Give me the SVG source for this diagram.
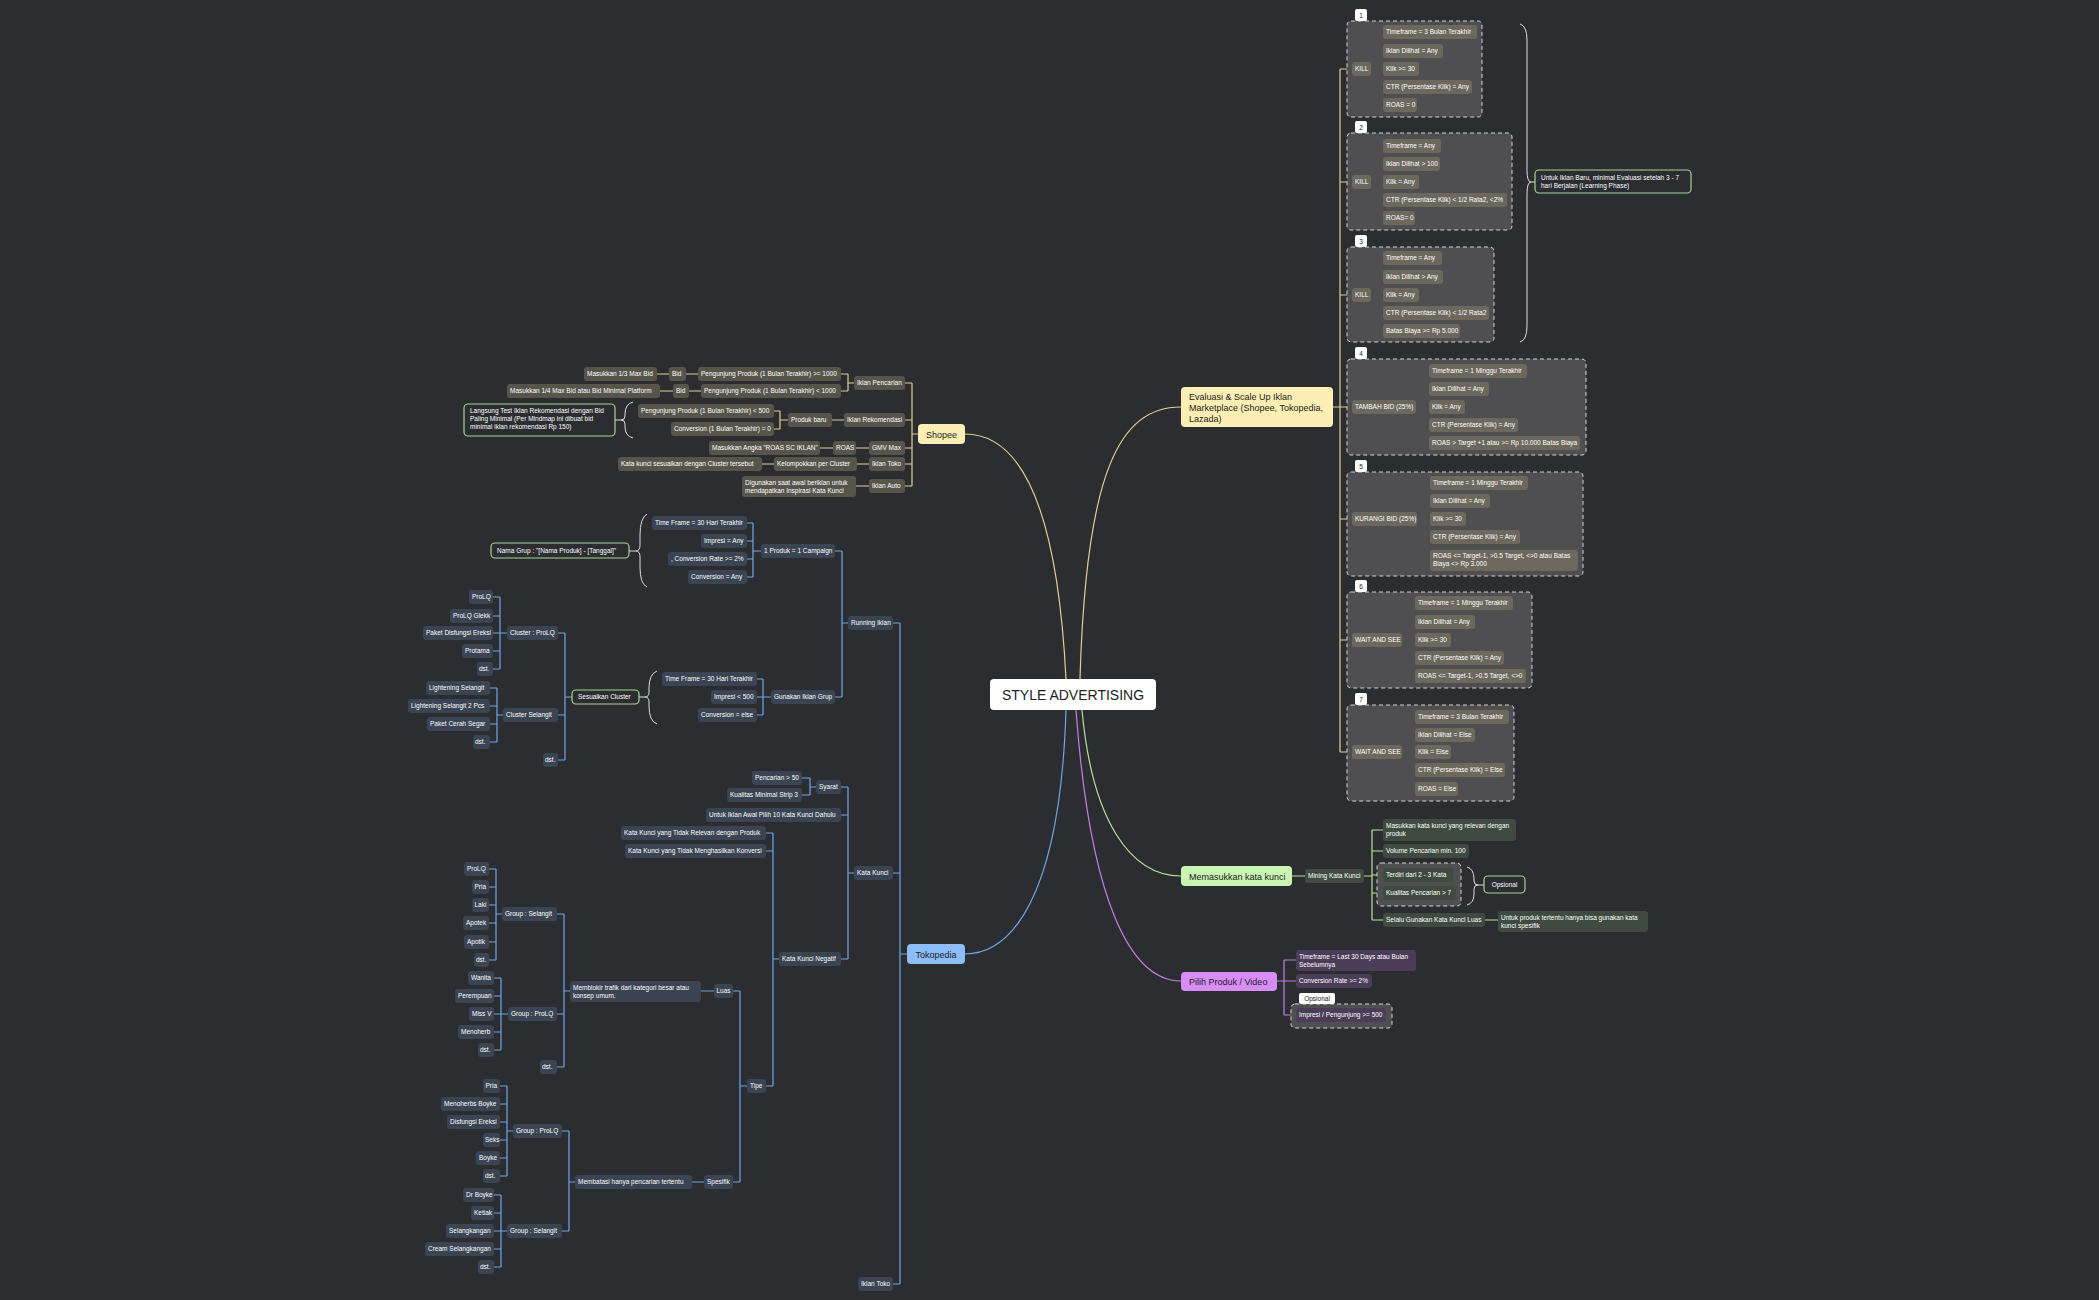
<svg xmlns="http://www.w3.org/2000/svg" width="2099" height="1300" viewBox="0 0 2099 1300">
<style>
text{font-family:"Liberation Sans",Arial,sans-serif;font-size:6.5px;fill:#fff}
.b{fill:#3a4452}.y{fill:#57544b}.e{fill:#6c685e}.g{fill:#3f4b40}.p{fill:#4b3d57}
.box{fill:#4f4f51;stroke:#d4d4d4;stroke-width:1;stroke-dasharray:4 3}
.tab{fill:#fff}.tt{fill:#222;text-anchor:middle}
.note{fill:#2b2d31;stroke:#a6d693;stroke-width:1.2}
.c{fill:none;stroke-width:1.2}
.cb{stroke:#6ea6e6}.cy{stroke:#e3d08f}.cg{stroke:#b5e39c}.cp{stroke:#c47fe6}.cw{stroke:#ddd;fill:none;stroke-width:1}
.m{font-size:9px;fill:#1c1c1c}
</style>
<rect width="2099" height="1300" fill="#2b2d31"/>
<g id="connectors">
<path class="c cy" d="M1080,679 C1086,470 1120,407 1181,407"/>
<path class="c cy" d="M1066,679 C1056,480 1010,434 965,434"/>
<path class="c cb" d="M1066,710 C1060,900 1010,954 965,954"/>
<path class="c cg" d="M1082,710 C1092,820 1130,876 1181,876"/>
<path class="c cp" d="M1076,710 C1090,900 1130,981 1181,981"/>
<path class="c cy" d="M1333,407 H1340 M1340,69 V752 M1340,69 H1352 M1340,182 H1352 M1340,295 H1352 M1340,407 H1352 M1340,519 H1352 M1340,640 H1352 M1340,752 H1352"/>
<path class="c cy" d="M1371,69 H1376 M1376,32 V105 M1376,32 H1383 M1376,51 H1383 M1376,69 H1383 M1376,87 H1383 M1376,105 H1383"/>
<path class="c cy" d="M1371,182 H1376 M1376,146 V218 M1376,146 H1383 M1376,164 H1383 M1376,182 H1383 M1376,200 H1383 M1376,218 H1383"/>
<path class="c cy" d="M1371,295 H1376 M1376,258 V331 M1376,258 H1383 M1376,277 H1383 M1376,295 H1383 M1376,313 H1383 M1376,331 H1383"/>
<path class="c cy" d="M1416,407 H1422 M1422,371 V443 M1422,371 H1429 M1422,389 H1429 M1422,407 H1429 M1422,425 H1429 M1422,443 H1429"/>
<path class="c cy" d="M1417,519 H1424 M1424,483 V560 M1424,483 H1430 M1424,501 H1430 M1424,519 H1430 M1424,537 H1430 M1424,560 H1430"/>
<path class="c cy" d="M1402,640 H1408 M1408,603 V676 M1408,603 H1415 M1408,622 H1415 M1408,640 H1415 M1408,658 H1415 M1408,676 H1415"/>
<path class="c cy" d="M1402,752 H1408 M1408,717 V789 M1408,717 H1415 M1408,735 H1415 M1408,752 H1415 M1408,770 H1415 M1408,789 H1415"/>
<path class="cw" d="M1520,24 Q1527,26 1527,40 V170 Q1527,182 1531,182 Q1527,182 1527,194 V326 Q1527,340 1520,342 M1531,182 H1535"/>
<path class="c cy" d="M918,434 H912 M912,383 V486 M912,383 H905 M912,420 H905 M912,448 H905 M912,464 H905 M912,486 H905"/>
<path class="c cy" d="M854,383 H848 M848,374 V391 M848,374 H841 M848,391 H841 M698,374 H686 M669,374 H657 M701,391 H689 M673,391 H660"/>
<path class="c cy" d="M844,420 H832 M788,420 H780 M780,411 V429 M780,411 H774 M780,429 H774"/>
<path class="cw" d="M633,402 Q625,404 625,414 V416 Q625,420 621,420 Q625,420 625,424 V427 Q625,436 633,438 M621,420 H615"/>
<path class="c cy" d="M869,448 H856 M833,448 H820 M869,464 H857 M774,464 H762 M869,486 H856"/>
<path class="c cb" d="M907,954 H900 M900,623 V1284 M900,623 H893 M900,873 H893 M900,1284 H893"/>
<path class="c cb" d="M848,623 H842 M842,551 V697 M842,551 H835 M842,697 H835"/>
<path class="c cb" d="M761,551 H753 M753,523 V577 M753,523 H747 M753,541 H747 M753,559 H747 M753,577 H747"/>
<path class="cw" d="M647,514 Q640,518 640,535 V545 Q640,551 636,551 Q640,551 640,557 V567 Q640,584 647,587 M636,551 H629"/>
<path class="c cb" d="M771,697 H763 M763,679 V715 M763,679 H757 M763,697 H757 M763,715 H757"/>
<path class="cw" d="M657,671 Q649,674 649,688 V692 Q649,697 645,697 Q649,697 649,702 V706 Q649,721 657,724 M645,697 H639"/>
<path class="c cb" d="M572,697 H565 M565,633 V760 M565,633 H558 M565,715 H558 M565,760 H558"/>
<path class="c cb" d="M507,633 H500 M500,597 V669 M500,597 H493 M500,616 H493 M500,633 H493 M500,651 H493 M500,669 H493"/>
<path class="c cb" d="M503,715 H497 M497,688 V742 M497,688 H490 M497,706 H490 M497,724 H490 M497,742 H490"/>
<path class="c cb" d="M854,873 H848 M848,787 V959 M848,787 H841 M848,815 H841 M848,959 H841"/>
<path class="c cb" d="M816,787 H810 M810,778 V795 M810,778 H802 M810,795 H802"/>
<path class="c cb" d="M779,959 H773 M773,833 V1086 M773,833 H766 M773,851 H766 M773,1086 H766"/>
<path class="c cb" d="M747,1086 H740 M740,991 V1182 M740,991 H733 M740,1182 H733 M714,991 H701 M704,1182 H692"/>
<path class="c cb" d="M570,991 H564 M564,914 V1067 M564,914 H557 M564,1014 H557 M564,1067 H557"/>
<path class="c cb" d="M502,914 H496 M496,869 V960 M496,869 H489 M496,887 H489 M496,905 H489 M496,923 H489 M496,942 H489 M496,960 H489"/>
<path class="c cb" d="M508,1014 H501 M501,978 V1050 M501,978 H494 M501,996 H494 M501,1014 H494 M501,1032 H494 M501,1050 H494"/>
<path class="c cb" d="M575,1182 H569 M569,1131 V1231 M569,1131 H562 M569,1231 H562"/>
<path class="c cb" d="M513,1131 H507 M507,1086 V1176 M507,1086 H500 M507,1104 H500 M507,1122 H500 M507,1140 H500 M507,1158 H500 M507,1176 H500"/>
<path class="c cb" d="M507,1231 H501 M501,1195 V1267 M501,1195 H494 M501,1213 H494 M501,1231 H494 M501,1249 H494 M501,1267 H494"/>
<path class="c cg" d="M1292,876 H1305 M1364,876 H1372 M1372,830 V920 M1372,830 H1383 M1372,851 H1383 M1372,875 H1383 M1372,893 H1383 M1372,920 H1383 M1485,920 H1498"/>
<path class="cw" d="M1467,867 Q1474,869 1474,879 V881 Q1474,885 1478,885 Q1474,885 1474,889 V894 Q1474,903 1467,905 M1478,885 H1484"/>
<path class="c cp" d="M1277,981 H1284 M1284,960 V1015 M1284,960 H1296 M1284,981 H1296 M1284,1015 H1296"/>
</g>
<g id="center"><rect x="990" y="679" width="166" height="31" rx="4" fill="#fff"/><text x="1073" y="699.5" style="font-size:14px;fill:#222;text-anchor:middle">STYLE ADVERTISING</text></g>
<g id="evaluasi"><rect x="1181" y="387" width="152" height="40" rx="4" fill="#fdefb3"/><text class="m" x="1189" y="400">Evaluasi &amp; Scale Up Iklan</text><text class="m" x="1189" y="411">Marketplace (Shopee, Tokopedia,</text><text class="m" x="1189" y="422">Lazada)</text></g>
<g id="box1"><rect class="box" x="1347" y="21" width="135" height="96" rx="4"/><rect class="tab" x="1355" y="9" width="12" height="12" rx="2"/><text class="tt" x="1361" y="18">1</text>
<rect class="e" x="1352" y="62" width="19" height="14" rx="3"/><text x="1355" y="71.3">KILL</text>
<rect class="e" x="1383" y="25" width="94" height="14" rx="3"/><text x="1386" y="34.3">Timeframe = 3 Bulan Terakhir</text>
<rect class="e" x="1383" y="44" width="60" height="14" rx="3"/><text x="1386" y="53.3">Iklan Dilihat = Any</text>
<rect class="e" x="1383" y="62" width="36" height="14" rx="3"/><text x="1386" y="71.3">Klik &gt;= 30</text>
<rect class="e" x="1383" y="80" width="89" height="14" rx="3"/><text x="1386" y="89.3">CTR (Persentase Klik) = Any</text>
<rect class="e" x="1383" y="98" width="34" height="14" rx="3"/><text x="1386" y="107.3">ROAS = 0</text></g>
<g id="box2"><rect class="box" x="1347" y="133" width="165" height="97" rx="4"/><rect class="tab" x="1355" y="121" width="12" height="12" rx="2"/><text class="tt" x="1361" y="130">2</text>
<rect class="e" x="1352" y="175" width="19" height="14" rx="3"/><text x="1355" y="184.3">KILL</text>
<rect class="e" x="1383" y="139" width="58" height="14" rx="3"/><text x="1386" y="148.3">Timeframe = Any</text>
<rect class="e" x="1383" y="157" width="57" height="14" rx="3"/><text x="1386" y="166.3">Iklan Dilihat &gt; 100</text>
<rect class="e" x="1383" y="175" width="36" height="14" rx="3"/><text x="1386" y="184.3">Klik = Any</text>
<rect class="e" x="1383" y="193" width="124" height="14" rx="3"/><text x="1386" y="202.3">CTR (Persentase Klik) &lt; 1/2 Rata2, &lt;2%</text>
<rect class="e" x="1383" y="211" width="32" height="14" rx="3"/><text x="1386" y="220.3">ROAS= 0</text></g>
<g id="box3"><rect class="box" x="1347" y="247" width="147" height="95" rx="4"/><rect class="tab" x="1355" y="235" width="12" height="12" rx="2"/><text class="tt" x="1361" y="244">3</text>
<rect class="e" x="1352" y="288" width="19" height="14" rx="3"/><text x="1355" y="297.3">KILL</text>
<rect class="e" x="1383" y="251" width="59" height="14" rx="3"/><text x="1386" y="260.3">Timeframe = Any</text>
<rect class="e" x="1383" y="270" width="60" height="14" rx="3"/><text x="1386" y="279.3">Iklan Dilihat &gt; Any</text>
<rect class="e" x="1383" y="288" width="36" height="14" rx="3"/><text x="1386" y="297.3">Klik = Any</text>
<rect class="e" x="1383" y="306" width="106" height="14" rx="3"/><text x="1386" y="315.3">CTR (Persentase Klik) &lt; 1/2 Rata2</text>
<rect class="e" x="1383" y="324" width="77" height="14" rx="3"/><text x="1386" y="333.3">Batas Biaya &gt;= Rp 5.000</text></g>
<g id="note-learning"><rect class="note" x="1535" y="170" width="156" height="23" rx="4"/><text x="1541" y="180">Untuk Iklan Baru, minimal Evaluasi setelah 3 - 7</text><text x="1541" y="188">hari Berjalan (Learning Phase)</text></g>
<g id="box4"><rect class="box" x="1347" y="359" width="239" height="96" rx="4"/><rect class="tab" x="1355" y="347" width="12" height="12" rx="2"/><text class="tt" x="1361" y="356">4</text>
<rect class="e" x="1352" y="400" width="64" height="14" rx="3"/><text x="1355" y="409.3">TAMBAH BID (25%)</text>
<rect class="e" x="1429" y="364" width="98" height="14" rx="3"/><text x="1432" y="373.3">Timeframe = 1 Minggu Terakhir</text>
<rect class="e" x="1429" y="382" width="60" height="14" rx="3"/><text x="1432" y="391.3">Iklan Dilihat = Any</text>
<rect class="e" x="1429" y="400" width="36" height="14" rx="3"/><text x="1432" y="409.3">Klik = Any</text>
<rect class="e" x="1429" y="418" width="89" height="14" rx="3"/><text x="1432" y="427.3">CTR (Persentase Klik) = Any</text>
<rect class="e" x="1429" y="436" width="151" height="14" rx="3"/><text x="1432" y="445.3">ROAS &gt; Target +1 atau &gt;= Rp 10.000 Batas Biaya</text></g>
<g id="box5"><rect class="box" x="1347" y="472" width="236" height="104" rx="4"/><rect class="tab" x="1355" y="460" width="12" height="12" rx="2"/><text class="tt" x="1361" y="469">5</text>
<rect class="e" x="1352" y="512" width="65" height="14" rx="3"/><text x="1355" y="521.3">KURANGI BID (25%)</text>
<rect class="e" x="1430" y="476" width="98" height="14" rx="3"/><text x="1433" y="485.3">Timeframe = 1 Minggu Terakhir</text>
<rect class="e" x="1430" y="494" width="60" height="14" rx="3"/><text x="1433" y="503.3">Iklan Dilihat = Any</text>
<rect class="e" x="1430" y="512" width="36" height="14" rx="3"/><text x="1433" y="521.3">Klik &gt;= 30</text>
<rect class="e" x="1430" y="530" width="90" height="14" rx="3"/><text x="1433" y="539.3">CTR (Persentase Klik) = Any</text>
<rect class="e" x="1430" y="550" width="148" height="21" rx="3"/><text x="1433" y="558">ROAS &lt;= Target-1, &gt;0.5 Target, &lt;&gt;0 atau Batas</text><text x="1433" y="566">Biaya &lt;&gt; Rp 3.000</text></g>
<g id="box6"><rect class="box" x="1347" y="592" width="185" height="96" rx="4"/><rect class="tab" x="1355" y="580" width="12" height="12" rx="2"/><text class="tt" x="1361" y="589">6</text>
<rect class="e" x="1352" y="633" width="50" height="14" rx="3"/><text x="1355" y="642.3">WAIT AND SEE</text>
<rect class="e" x="1415" y="596" width="98" height="14" rx="3"/><text x="1418" y="605.3">Timeframe = 1 Minggu Terakhir</text>
<rect class="e" x="1415" y="615" width="60" height="14" rx="3"/><text x="1418" y="624.3">Iklan Dilihat = Any</text>
<rect class="e" x="1415" y="633" width="36" height="14" rx="3"/><text x="1418" y="642.3">Klik &gt;= 30</text>
<rect class="e" x="1415" y="651" width="89" height="14" rx="3"/><text x="1418" y="660.3">CTR (Persentase Klik) = Any</text>
<rect class="e" x="1415" y="669" width="111" height="14" rx="3"/><text x="1418" y="678.3">ROAS &lt;= Target-1, &gt;0.5 Target, &lt;&gt;0</text></g>
<g id="box7"><rect class="box" x="1347" y="705" width="167" height="96" rx="4"/><rect class="tab" x="1355" y="693" width="12" height="12" rx="2"/><text class="tt" x="1361" y="702">7</text>
<rect class="e" x="1352" y="745" width="50" height="14" rx="3"/><text x="1355" y="754.3">WAIT AND SEE</text>
<rect class="e" x="1415" y="710" width="94" height="14" rx="3"/><text x="1418" y="719.3">Timeframe = 3 Bulan Terakhir</text>
<rect class="e" x="1415" y="728" width="60" height="14" rx="3"/><text x="1418" y="737.3">Iklan Dilihat = Else</text>
<rect class="e" x="1415" y="745" width="36" height="14" rx="3"/><text x="1418" y="754.3">Klik = Else</text>
<rect class="e" x="1415" y="763" width="90" height="14" rx="3"/><text x="1418" y="772.3">CTR (Persentase Klik) = Else</text>
<rect class="e" x="1415" y="782" width="43" height="14" rx="3"/><text x="1418" y="791.3">ROAS = Else</text></g>
<g id="memasukkan"><rect x="1181" y="866" width="111" height="20" rx="4" fill="#c9f5b2"/><text class="m" x="1189" y="879.5">Memasukkan kata kunci</text>
<rect class="g" x="1305" y="869" width="59" height="14" rx="3"/><text x="1308" y="878.3">Mining Kata Kunci</text>
<rect class="g" x="1383" y="819" width="133" height="22" rx="3"/><text x="1386" y="828">Masukkan kata kunci yang relevan dengan</text><text x="1386" y="836">produk</text>
<rect class="g" x="1383" y="844" width="86" height="14" rx="3"/><text x="1386" y="853.3">Volume Pencarian min. 100</text>
<rect class="box" x="1377" y="863" width="84" height="43" rx="4"/>
<rect class="g" x="1383" y="868" width="70" height="14" rx="3"/><text x="1386" y="877.3">Terdiri dari 2 - 3 Kata</text>
<rect class="g" x="1383" y="886" width="73" height="14" rx="3"/><text x="1386" y="895.3">Kualitas Pencarian &gt; 7</text>
<rect class="note" x="1484" y="876" width="41" height="17" rx="4"/><text x="1504.5" y="887" style="text-anchor:middle">Opsional</text>
<rect class="g" x="1383" y="913" width="102" height="14" rx="3"/><text x="1386" y="922.3">Selalu Gunakan Kata Kunci Luas</text>
<rect class="g" x="1498" y="911" width="150" height="21" rx="3"/><text x="1501" y="919.5">Untuk produk tertentu hanya bisa gunakan kata</text><text x="1501" y="927.5">kunci spesifik</text></g>
<g id="pilih"><rect x="1181" y="972" width="96" height="19" rx="4" fill="#d88cf7"/><text class="m" x="1189" y="985">Pilih Produk / Video</text>
<rect class="p" x="1296" y="950" width="120" height="21" rx="3"/><text x="1299" y="958.5">Timeframe = Last 30 Days atau Bulan</text><text x="1299" y="966.5">Sebelumnya</text>
<rect class="p" x="1296" y="974" width="76" height="14" rx="3"/><text x="1299" y="983.3">Conversion Rate &gt;= 2%</text>
<rect class="box" x="1291" y="1004" width="101" height="24" rx="4"/><rect class="tab" x="1299" y="993" width="36" height="11" rx="2"/><text class="tt" x="1317" y="1001">Opsional</text>
<rect class="p" x="1296" y="1008" width="90" height="14" rx="3"/><text x="1299" y="1017.3">Impresi / Pengunjung &gt;= 500</text></g>
<g id="shopee"><rect x="918" y="424" width="47" height="20" rx="4" fill="#fdefb3"/><text class="m" x="941.5" y="437.5" style="text-anchor:middle">Shopee</text>
<rect class="y" x="854" y="376" width="51" height="14" rx="3"/><text x="857" y="385.3">Iklan Pencarian</text>
<rect class="y" x="698" y="367" width="143" height="14" rx="3"/><text x="701" y="376.3">Pengunjung Produk (1 Bulan Terakhir) &gt;= 1000</text>
<rect class="y" x="669" y="367" width="17" height="14" rx="3"/><text x="672" y="376.3">Bid</text>
<rect class="y" x="584" y="367" width="73" height="14" rx="3"/><text x="587" y="376.3">Masukkan 1/3 Max Bid</text>
<rect class="y" x="701" y="384" width="140" height="14" rx="3"/><text x="704" y="393.3">Pengunjung Produk (1 Bulan Terakhir) &lt; 1000</text>
<rect class="y" x="673" y="384" width="16" height="14" rx="3"/><text x="676" y="393.3">Bid</text>
<rect class="y" x="507" y="384" width="153" height="14" rx="3"/><text x="510" y="393.3">Masukkan 1/4 Max Bid atau Bid Minimal Platform</text>
<rect class="y" x="844" y="413" width="61" height="14" rx="3"/><text x="847" y="422.3">Iklan Rekomendasi</text>
<rect class="y" x="788" y="413" width="44" height="14" rx="3"/><text x="791" y="422.3">Produk baru</text>
<rect class="y" x="638" y="404" width="136" height="14" rx="3"/><text x="641" y="413.3">Pengunjung Produk (1 Bulan Terakhir) &lt; 500</text>
<rect class="y" x="671" y="422" width="103" height="14" rx="3"/><text x="674" y="431.3">Conversion (1 Bulan Terakhir) = 0</text>
<rect class="note" x="464" y="404" width="151" height="32" rx="4"/><text x="470" y="413">Langsung Test Iklan Rekomendasi dengan Bid</text><text x="470" y="421">Paling Minimal (Per Mindmap ini dibuat bid</text><text x="470" y="429">minimal iklan rekomendasi Rp 150)</text>
<rect class="y" x="869" y="441" width="36" height="14" rx="3"/><text x="872" y="450.3">GMV Max</text>
<rect class="y" x="833" y="441" width="23" height="14" rx="3"/><text x="836" y="450.3">ROAS</text>
<rect class="y" x="709" y="441" width="111" height="14" rx="3"/><text x="712" y="450.3">Masukkan Angka "ROAS SC IKLAN"</text>
<rect class="y" x="869" y="457" width="36" height="14" rx="3"/><text x="872" y="466.3">Iklan Toko</text>
<rect class="y" x="774" y="457" width="83" height="14" rx="3"/><text x="777" y="466.3">Kelompokkan per Cluster</text>
<rect class="y" x="618" y="457" width="144" height="14" rx="3"/><text x="621" y="466.3">Kata kunci sesuaikan dengan Cluster tersebut</text>
<rect class="y" x="869" y="479" width="36" height="14" rx="3"/><text x="872" y="488.3">Iklan Auto</text>
<rect class="y" x="742" y="476" width="114" height="21" rx="3"/><text x="745" y="484.5">Digunakan saat awal beriklan untuk</text><text x="745" y="492.5">mendapatkan Inspirasi Kata Kunci</text></g>
<g id="tokopedia"><rect x="907" y="944" width="58" height="20" rx="4" fill="#8cbdf6"/><text class="m" x="936" y="957.5" style="text-anchor:middle">Tokopedia</text>
<rect class="b" x="848" y="616" width="45" height="14" rx="3"/><text x="851" y="625.3">Running Iklan</text>
<rect class="b" x="761" y="544" width="74" height="14" rx="3"/><text x="764" y="553.3">1 Produk = 1 Campaign</text>
<rect class="b" x="652" y="516" width="95" height="14" rx="3"/><text x="655" y="525.3">Time Frame = 30 Hari Terakhir</text>
<rect class="b" x="701" y="534" width="46" height="14" rx="3"/><text x="704" y="543.3">Impresi = Any</text>
<rect class="b" x="668" y="552" width="79" height="14" rx="3"/><text x="671" y="561.3">, Conversion Rate &gt;= 2%</text>
<rect class="b" x="688" y="570" width="59" height="14" rx="3"/><text x="691" y="579.3">Conversion = Any</text>
<rect class="note" x="491" y="543" width="138" height="15" rx="4"/><text x="497" y="553">Nama Grup : "[Nama Produk] - [Tanggal]"</text>
<rect class="b" x="771" y="690" width="64" height="14" rx="3"/><text x="774" y="699.3">Gunakan Iklan Grup</text>
<rect class="b" x="662" y="672" width="95" height="14" rx="3"/><text x="665" y="681.3">Time Frame = 30 Hari Terakhir</text>
<rect class="b" x="711" y="690" width="46" height="14" rx="3"/><text x="714" y="699.3">Impresi &lt; 500</text>
<rect class="b" x="698" y="708" width="59" height="14" rx="3"/><text x="701" y="717.3">Conversion = else</text>
<rect class="note" x="572" y="690" width="67" height="14" rx="4"/><text x="578" y="699.3">Sesuaikan Cluster</text>
<rect class="b" x="507" y="626" width="51" height="14" rx="3"/><text x="510" y="635.3">Cluster : ProLQ</text>
<rect class="b" x="503" y="708" width="55" height="14" rx="3"/><text x="506" y="717.3">Cluster  Selangit</text>
<rect class="b" x="543" y="753" width="15" height="14" rx="3"/><text x="545" y="762.3">dst.</text>
<rect class="b" x="469" y="590" width="24" height="14" rx="3"/><text x="472" y="599.3">ProLQ</text>
<rect class="b" x="450" y="609" width="43" height="14" rx="3"/><text x="453" y="618.3">ProLQ Glekk</text>
<rect class="b" x="423" y="626" width="70" height="14" rx="3"/><text x="426" y="635.3">Paket Disfungsi Ereksi</text>
<rect class="b" x="462" y="644" width="31" height="14" rx="3"/><text x="465" y="653.3">Protama</text>
<rect class="b" x="477" y="662" width="16" height="14" rx="3"/><text x="479" y="671.3">dst.</text>
<rect class="b" x="426" y="681" width="64" height="14" rx="3"/><text x="429" y="690.3">Lightening Selangit</text>
<rect class="b" x="408" y="699" width="82" height="14" rx="3"/><text x="411" y="708.3">Lightening Selangit 2 Pcs</text>
<rect class="b" x="427" y="717" width="63" height="14" rx="3"/><text x="430" y="726.3">Paket Cerah Segar</text>
<rect class="b" x="473" y="735" width="17" height="14" rx="3"/><text x="475" y="744.3">dst.</text>
<rect class="b" x="854" y="866" width="39" height="14" rx="3"/><text x="857" y="875.3">Kata Kunci</text>
<rect class="b" x="816" y="780" width="25" height="14" rx="3"/><text x="819" y="789.3">Syarat</text>
<rect class="b" x="752" y="771" width="50" height="14" rx="3"/><text x="755" y="780.3">Pencarian &gt; 50</text>
<rect class="b" x="727" y="788" width="75" height="14" rx="3"/><text x="730" y="797.3">Kualitas Minimal Strip 3</text>
<rect class="b" x="706" y="808" width="135" height="14" rx="3"/><text x="709" y="817.3">Untuk Iklan Awal Pilih 10 Kata Kunci Dahulu</text>
<rect class="b" x="779" y="952" width="62" height="14" rx="3"/><text x="782" y="961.3">Kata Kunci Negatif</text>
<rect class="b" x="621" y="826" width="145" height="14" rx="3"/><text x="624" y="835.3">Kata Kunci yang Tidak Relevan dengan Produk</text>
<rect class="b" x="625" y="844" width="141" height="14" rx="3"/><text x="628" y="853.3">Kata Kunci yang Tidak Menghasilkan Konversi</text>
<rect class="b" x="747" y="1079" width="19" height="14" rx="3"/><text x="750" y="1088.3">Tipe</text>
<rect class="b" x="714" y="984" width="19" height="14" rx="3"/><text x="716.5" y="993.3">Luas</text>
<rect class="b" x="570" y="981" width="131" height="21" rx="3"/><text x="573" y="989.5">Memblokir trafik dari kategori besar atau</text><text x="573" y="997.5">konsep umum.</text>
<rect class="b" x="502" y="907" width="55" height="14" rx="3"/><text x="505" y="916.3">Group : Selangit</text>
<rect class="b" x="508" y="1007" width="49" height="14" rx="3"/><text x="511" y="1016.3">Group : ProLQ</text>
<rect class="b" x="540" y="1060" width="17" height="14" rx="3"/><text x="542" y="1069.3">dst.</text>
<rect class="b" x="464" y="862" width="25" height="14" rx="3"/><text x="467" y="871.3">ProLQ</text>
<rect class="b" x="472" y="880" width="17" height="14" rx="3"/><text x="474.5" y="889.3">Pria</text>
<rect class="b" x="472" y="898" width="17" height="14" rx="3"/><text x="474.5" y="907.3">Laki</text>
<rect class="b" x="463" y="916" width="26" height="14" rx="3"/><text x="466" y="925.3">Apotek</text>
<rect class="b" x="464" y="935" width="25" height="14" rx="3"/><text x="467" y="944.3">Apotik</text>
<rect class="b" x="474" y="953" width="15" height="14" rx="3"/><text x="476" y="962.3">dst.</text>
<rect class="b" x="468" y="971" width="26" height="14" rx="3"/><text x="471" y="980.3">Wanita</text>
<rect class="b" x="455" y="989" width="39" height="14" rx="3"/><text x="458" y="998.3">Perempuan</text>
<rect class="b" x="469" y="1007" width="25" height="14" rx="3"/><text x="472" y="1016.3">Miss V</text>
<rect class="b" x="458" y="1025" width="36" height="14" rx="3"/><text x="461" y="1034.3">Menoherb</text>
<rect class="b" x="478" y="1043" width="16" height="14" rx="3"/><text x="480" y="1052.3">dst.</text>
<rect class="b" x="704" y="1175" width="29" height="14" rx="3"/><text x="707" y="1184.3">Spesifik</text>
<rect class="b" x="575" y="1175" width="117" height="14" rx="3"/><text x="578" y="1184.3">Membatasi hanya pencarian tertentu</text>
<rect class="b" x="513" y="1124" width="49" height="14" rx="3"/><text x="516" y="1133.3">Group : ProLQ</text>
<rect class="b" x="507" y="1224" width="55" height="14" rx="3"/><text x="510" y="1233.3">Group : Selangit</text>
<rect class="b" x="483" y="1079" width="17" height="14" rx="3"/><text x="485.5" y="1088.3">Pria</text>
<rect class="b" x="441" y="1097" width="59" height="14" rx="3"/><text x="444" y="1106.3">Menoherbs Boyke</text>
<rect class="b" x="447" y="1115" width="53" height="14" rx="3"/><text x="450" y="1124.3">Disfungsi Ereksi</text>
<rect class="b" x="483" y="1133" width="17" height="14" rx="3"/><text x="485" y="1142.3">Seks</text>
<rect class="b" x="476" y="1151" width="24" height="14" rx="3"/><text x="479" y="1160.3">Boyke</text>
<rect class="b" x="483" y="1169" width="17" height="14" rx="3"/><text x="485" y="1178.3">dst.</text>
<rect class="b" x="463" y="1188" width="31" height="14" rx="3"/><text x="466" y="1197.3">Dr Boyke</text>
<rect class="b" x="471" y="1206" width="23" height="14" rx="3"/><text x="474" y="1215.3">Ketiak</text>
<rect class="b" x="446" y="1224" width="48" height="14" rx="3"/><text x="449" y="1233.3">Selangkangan</text>
<rect class="b" x="425" y="1242" width="69" height="14" rx="3"/><text x="428" y="1251.3">Cream Selangkangan</text>
<rect class="b" x="478" y="1260" width="16" height="14" rx="3"/><text x="480" y="1269.3">dst.</text>
<rect class="b" x="858" y="1277" width="35" height="14" rx="3"/><text x="861" y="1286.3">Iklan Toko</text></g>
</svg>
